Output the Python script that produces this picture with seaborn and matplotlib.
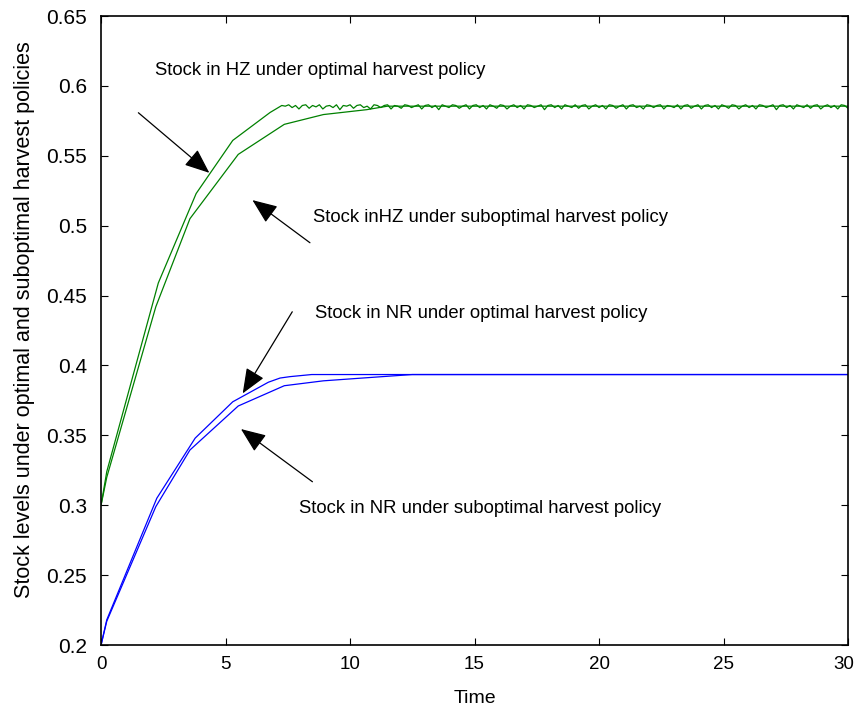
import numpy as np
import pandas as pd
import matplotlib
matplotlib.use("Agg")
import matplotlib.pyplot as plt
import matplotlib.transforms as mtransforms
import seaborn as sns

# Stock in HZ, optimal policy: transient part, then a noisy plateau
hz_opt_t = [0, 0.23, 2.3, 3.82, 5.29, 6.79, 7.26]
hz_opt_y = [0.300, 0.324, 0.459, 0.523, 0.561, 0.581, 0.586]
hz_level = 0.5855
# wiggle around the plateau (thousandths), read by eye from x=7.4 to 30
hz_wiggle = [0, 1, -1, 0.5, -2, 0.5, 1, -1.5, 0.5, -0.5,
             1, -2, 0, 0.5, -1, 1, -2.5, 0.5, 0, 1,
             -1.5, 0.5, 1, -1, 0, -2, 1, 0.5, -1, 0.5,
             1, -2, 0.5, 0, -1.5, 1, 0.5, -1, 0, 1,
             -2, 0.5, 1, -1, 0.5, -2.5, 1, 0, -1, 1,
             0.5, -1.5, 0, 1, -2, 0.5, 1, -1, 0.5, -2,
             1, 0, -1.5, 1, 0.5, -2, 0, 1, -1, 0.5,
             -2, 1, 0.5, -1, 0, 1, -2.5, 0.5, 1, -1,
             0.5, -2, 1, 0, -1, 1, -1.5, 0.5, 1, -2,
             0, 1, -1, 0.5, -2, 1, 0.5, -1.5, 0, 1,
             -2, 0.5, 1, -1, 0, -2, 1, 0.5, -1, 0.5,
             1, -2, 0.5, 0, -1, 1, -2, 0.5, 1, -1.5,
             0, 1, -2, 0.5, 1, -1, 0.5, -2, 1, 0,
             -1.5, 1, 0.5, -2, 0, 1, -1, 0.5, -2, 1,
             0.5, -1, 0, 1, -2.5, 0.5, 1, -1, 0.5, -2,
             1, 0, -1, 1, -1.5, 0.5, 1, -2, 0, 1,
             -1, 0.5, -2, 1, 0.5, -1.5]

# Stock in HZ, suboptimal policy
hz_sub_t = [0, 0.23, 2.2, 3.57, 5.51, 7.36, 8.93, 10.67, 11.5, 30]
hz_sub_y = [0.300, 0.320, 0.442, 0.505, 0.551, 0.5725, 0.5795, 0.583, 0.5855, 0.5855]

# Stock in NR, optimal policy
nr_opt_t = [0, 0.23, 2.24, 3.78, 5.29, 6.72, 7.19, 7.59, 8.46, 30]
nr_opt_y = [0.200, 0.218, 0.305, 0.348, 0.374, 0.388, 0.391, 0.392, 0.3935, 0.3935]

# Stock in NR, suboptimal policy
nr_sub_t = [0, 0.23, 2.2, 3.57, 5.51, 7.36, 8.93, 10.5, 12.5, 30]
nr_sub_y = [0.200, 0.217, 0.299, 0.3395, 0.371, 0.3855, 0.389, 0.391, 0.3935, 0.3935]

xticks = [0, 5, 10, 15, 20, 25, 30]
yticks = [0.2, 0.25, 0.3, 0.35, 0.4, 0.45, 0.5, 0.55, 0.6, 0.65]
ytick_labels = ["0.2", "0.25", "0.3", "0.35", "0.4", "0.45", "0.5", "0.55", "0.6", "0.65"]

tail_t = np.linspace(7.4, 30, len(hz_wiggle))
hz_opt_full_t = hz_opt_t + list(tail_t)
hz_opt_full_y = hz_opt_y + [hz_level + w / 1000 for w in hz_wiggle]

sns.set_style("ticks", {"axes.edgecolor": "black", "text.color": "black",
                        "axes.labelcolor": "black", "xtick.color": "black",
                        "ytick.color": "black"})
plt.rcParams['font.family'] = ['Liberation Sans', 'DejaVu Sans']

fig = plt.figure(figsize=(8.57, 7.12), dpi=100)
ax = fig.add_axes([0.1179, 0.0941, 0.8716, 0.8834])

series = [
    (hz_sub_t, hz_sub_y, "green"),
    (hz_opt_full_t, hz_opt_full_y, "green"),
    (nr_sub_t, nr_sub_y, "blue"),
    (nr_opt_t, nr_opt_y, "blue"),
]
for t, y, c in series:
    df = pd.DataFrame({"t": t, "y": y})
    sns.lineplot(data=df, x="t", y="y", color=c, lw=0.9, estimator=None,
                 sort=False, ax=ax)

ax.set_xlim(0, 30)
ax.set_ylim(0.2, 0.65)
ax.set_xticks(xticks)
ax.set_xticklabels([str(v) for v in xticks])
ax.set_yticks(yticks)
ax.set_yticklabels(ytick_labels)
ax.tick_params(direction="in", top=True, right=True, length=5, width=0.8)
ax.tick_params(axis="y", labelsize=15, pad=10)
ax.tick_params(axis="x", labelsize=13.5, pad=8)
# nudge the last x label so it stays inside the figure
last = ax.get_xticklabels()[-1]
last.set_transform(last.get_transform() +
                   mtransforms.ScaledTranslation(-4 / 100, 0, fig.dpi_scale_trans))
for s in ax.spines.values():
    s.set_linewidth(1.2)
ax.set_xlabel("Time", fontsize=14, labelpad=12)
ax.set_ylabel("Stock levels under optimal and suboptimal harvest policies",
              fontsize=15.5)
ax.yaxis.set_label_coords(-0.089, 0.517)

arrow = dict(arrowstyle="-|>,head_length=1.1,head_width=0.45", color="black",
             lw=0.9, mutation_scale=14, shrinkA=0, shrinkB=0)
notes = [
    ("Stock in HZ under optimal harvest policy", (2.17, 0.6113), (1.50, 0.5808), (4.35, 0.5378)),
    ("Stock inHZ under suboptimal harvest policy", (8.51, 0.5062), (8.39, 0.4878), (6.08, 0.5183)),
    ("Stock in NR under optimal harvest policy", (8.59, 0.4375), (7.68, 0.4384), (5.69, 0.380)),
    ("Stock in NR under suboptimal harvest policy", (7.95, 0.298), (8.49, 0.3168), (5.62, 0.3545)),
]
for label, pos, tail, head in notes:
    ax.text(pos[0], pos[1], label, fontsize=13.3, ha="left", va="center")
    ax.annotate("", xy=head, xytext=tail, arrowprops=arrow)

fig.savefig("out.png", dpi=100)
